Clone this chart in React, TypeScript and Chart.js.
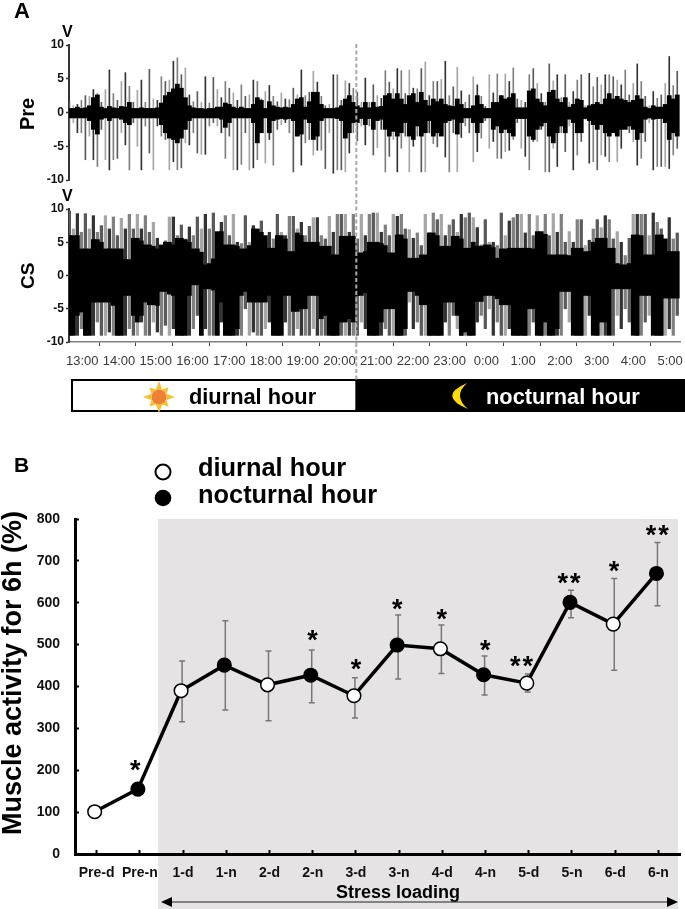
import React, { useEffect, useRef } from "react";
import { Chart, registerables } from "chart.js";

Chart.register(...registerables);

const FONT = "'Liberation Sans', Arial, sans-serif";

// ---------- Panel A: hour axis ----------
const timeLabels = ["13:00","14:00","15:00","16:00","17:00","18:00","19:00","20:00","21:00","22:00","23:00","0:00","1:00","2:00","3:00","4:00","5:00"];
const hourTicks = [14,15,16,17,18,19,20,21,22,23,24,25,26,27,28,29];
const HOUR_MIN = 13.18;
const HOUR_MAX = 29.81;
const BIN_HOURS = 4 / 36.75;
const BOUNDARY_HOUR = 21;

// ---------- Panel A: Pre trace (envelope per time bin, volts) ----------
const preSpikeHi = [
1.7,1.0,1.2,1.8,2.5,2.4,3.4,2.8,1.5,3.4,
6.3,2.8,1.8,4.6,5.9,3.9,1.5,3.3,4.8,1.5,
6.4,2.0,1.8,5.3,4.6,4.8,7.6,8.1,5.6,6.6,
2.6,1.6,3.1,1.5,5.3,1.4,5.2,3.4,2.2,4.6,
3.6,2.9,1.8,4.1,2.4,2.6,4.8,4.6,2.0,3.1,
4,2.4,1.6,2.9,2,1.9,3.6,2.6,6.3,2.5,
3,6.1,4.5,2.4,1,1.2,5.6,5.6,1.8,4.7,
4.3,3.6,3,1.5,5.1,1.5,4.1,2.5,2.1,6.2,
4.5,3.5,6.5,6.2,2.8,6.3,3.6,3.5,6.5,7.5,
2.5,4.6,4.6,4.9,7.6,2.5,3.8,6.7,3.2,1.5,
2.6,5.3,4.1,2.4,.9,5.6,2.9,5.7,2.5,5.7,
4.6,6.6,2,1.8,1.5,5.6,6.5,4.3,2.8,1.5,
7.2,4.7,5.6,2.2,5.6,1.5,3.1,4.8,5.6,1,
5.8,3.8,5.2,4.1,5.6,5.6,5.3,4.8,4.1,6.3,
2.6,4.3,7.2,4.6,2.4,1,3.1,2.1,2.6,4.3,
8.3,4,6.1];
const preSpikeLo = [
-4,-1.5,-3,-3,-7,-3.5,-7,-8,-2.5,-7,
-8.5,-7,-6.8,-3,-4.8,-8.5,-1.5,-5,-8.5,-2,
-6,-8.5,-2,-3.5,-4,-8.5,-7.3,-8.5,-8.2,-4.5,
-4.8,-3,-6,-6.2,-6.2,-2,-1.5,-2,-3,-6.8,
-3.5,-8.5,-8.5,-7.7,-3,-8.5,-8.2,-7,-3,-7.5,
-4,-7.8,-2.5,-1.8,-1.5,-3,-8.8,-3.5,-7.8,-4.5,
-4,-6.3,-5.6,-5.6,-8.3,-3,-9,-8.5,-8.5,-8.8,
-6,-3,-4.2,-2,-4.8,-2,-6.3,-5.2,-2.5,-8.8,
-6.5,-4,-8.8,-5.3,-3.5,-8.8,-5,-3.5,-8.8,-8.8,
-3,-4.6,-5.1,-3,-6.6,-8.8,-3,-8.8,-3.7,-2,
-3,-7.3,-5.8,-3.8,-1.2,-5.3,-4.3,-6.8,-6.8,-5.8,
-5.6,-4,-1.5,-5.3,-6.5,-8.5,-4.3,-4.3,-2.5,-8.8,
-8.8,-5.3,-8,-3,-5.8,-2,-8.5,-6.3,-4.3,-1,
-7.5,-7.3,-8.5,-6.3,-6.5,-7.3,-3,-7.3,-5.3,-2.3,
-3,-4.3,-7.8,-6.8,-4.3,-1.5,-8.5,-8,-8,-8,
-8.3,-6.3,-5.3];
const preCoreHi = [
.6,.6,.8,.6,.7,1.0,2.2,2.6,.8,.6,
.9,.7,.6,.9,.8,1.5,.6,.6,.7,.6,
.6,.6,.7,1.4,2.5,3.0,3.5,4.2,3.6,2.2,
1.0,.7,.6,.6,.5,.6,.6,.8,.8,1.4,
1.2,.8,.6,.8,.6,.6,1.2,2.2,1.8,.6,
1.6,1,.8,.7,.8,.7,1.2,2.0,2.2,.8,
1.6,3,3,1.2,.6,.6,.6,.7,1,2,
2.5,1.5,1,.7,1.5,.7,1.5,.8,.9,2.5,
2.8,2,2.8,2,1.2,2.5,2.8,1.5,3,1.8,
1,2,1.6,2,1.2,1,.9,2,1.2,.6,
.6,1,2.5,1.2,.6,.6,1.5,1.5,2.5,2,
2.2,2.8,.7,.7,.7,3.2,3.5,2,1.5,1,
3,3.3,2,1.5,2.2,.8,1.2,2,1.8,.7,
1,1.2,1.5,1.2,2,2.8,2,2.4,2,1.8,
1.5,1.8,2.5,2,.8,.6,1,.8,.8,1.2,
2.5,2,2.6];
const preCoreLo = [
-.8,-.8,-.8,-.8,-.8,-1.2,-2.5,-3.2,-1,-.8,
-1.2,-.8,-.8,-1,-1.5,-1.8,-.8,-.8,-.8,-.8,
-.8,-.8,-.8,-1.8,-3,-3.8,-4,-4.5,-3.8,-2.5,
-1.2,-.8,-.8,-.8,-.8,-.8,-.8,-.8,-1,-2.2,
-1.5,-.8,-.8,-.8,-.8,-.8,-1.5,-4.5,-3,-.8,
-3,-1.2,-1,-.9,-1,-.9,-1.2,-3.5,-3.2,-1,
-1.5,-4,-3.5,-1.2,-.8,-.8,-.8,-.9,-1.2,-3.8,
-3,-1.5,-1.5,-.9,-1.8,-.9,-2.5,-1.2,-1,-2.5,
-3.5,-2.8,-3.5,-3,-1.5,-3.5,-4,-2,-3.5,-3,
-1.2,-3.5,-3,-3.5,-1.5,-1.2,-1,-3.2,-1.5,-.8,
-.8,-1.5,-3,-1.5,-.8,-.8,-2.5,-2,-3,-2.5,
-3,-3.5,-.9,-.9,-.9,-3.5,-4,-2.5,-2,-1.5,
-3.5,-4.5,-3,-2,-3,-1,-1.5,-3,-3,-.9,
-1.2,-1.8,-2.5,-1.8,-3,-3.5,-3,-3.5,-2.5,-2.5,
-2,-2.5,-4,-3,-1,-.8,-1,-.9,-.9,-1.5,
-4,-3,-3.5];

// ---------- Panel A: CS trace ----------
const csSpikeHi = [
9.7,7,9.3,6.5,9.3,7,9,6.5,7.5,9,
7,8.8,6,8.6,7,9.2,7,9.2,7,9,
6.5,8,5.6,4.5,5.2,8.8,8.8,6,7.6,5.5,
7.3,6,8.8,7,9.2,7,9.4,6,8,9,
6,9.2,5,4.8,9,5,7.5,5.6,8.2,5.6,
6.5,5.5,9.2,6.5,6,8.9,8.9,7,8,6,
7.4,8.7,8.7,6,5.5,8.9,6.5,9.2,9.2,9.2,
6.5,9.2,5.5,9.2,6,9.2,9.4,9.4,6.5,7.6,
6,9.2,8.9,9.2,7,6.9,5.6,6.4,4.5,9.2,
6.4,9.4,8.4,9.2,6,7.6,8.4,6.5,9.2,8.7,
9.4,8.7,7.2,4.6,8.4,5,5,4.5,9.4,6,
8.2,8.7,9.2,9.2,6.4,9.2,6,9,6.5,9.2,
6,9.3,6.5,9.2,5,6.6,5,8.4,8.4,4.5,
5.3,7,8.4,7.2,9,8.4,5.5,6.6,5,3,
5.6,9.2,9.2,9.2,9.2,6,9.4,8,7,5.5,
8.7,5.5,6.4];
const csSpikeLo = [
-9,-9,-9,-8,-9,-9,-9,-7,-9,-9,
-8.5,-9,-9,-9,-9,-8,-9,-9,-7,-9,
-9,-7,-8.5,-9,-7.5,-9,-8,-9,-9,-9,
-9,-8,-6,-9,-8,-9,-9,-9,-7,-9,
-9,-9,-9,-9,-5,-9,-8.5,-9,-9,-8,
-7,-9,-9,-9,-7,-9,-9,-8,-9,-9,
-9,-8,-9,-9,-9,-9,-9,-9,-9,-9,
-9,-9,-9,-7,-8,-9,-9,-9,-9,-8,
-9,-9,-9,-9,-9,-4,-8,-7,-9,-9,
-9,-9,-9,-9,-7,-9,-6,-8,-9,-9,
-9,-9,-7,-6,-8,-5,-9,-7,-9,-9,
-8,-9,-9,-9,-9,-9,-7,-9,-9,-9,
-9,-9,-9,-9,-5,-7,-6,-9,-9,-9,
-6,-5,-9,-9,-9,-8,-9,-6,-8,-5,
-7,-5,-9,-9,-7,-6,-5,-9,-9,-9,
-8,-9,-6];
const csCoreHi = [
6,6,6,4,4,4,5.4,5.4,5,4,
4,4,4,4,2.4,2.4,5.6,5.6,5.2,4.6,
4.6,4.4,4,4.6,5,5,4.6,5.6,5.6,5.4,
5,4,4,3.5,1.6,1.8,2.5,6.6,6.6,4.6,
4.6,4.6,4.4,4,4,4.5,7,7,6.5,6,
4.1,4.1,6,6,5.5,3.6,3.6,6.4,6,5,
5,5,5,4.4,4.4,4.4,3.1,3.1,5.9,5.9,
5.9,5.9,3.4,3.4,3.6,5,5,5,4.8,4.5,
3.4,3.4,6.1,6.1,5.5,2.6,2.6,2.6,3.1,3.1,
6.4,6.4,6,4.4,4.4,4.4,5.9,5.9,5.5,4.1,
4.1,5,4.4,4.4,4.6,4.6,4.2,2.6,4,4,
4.1,4.1,4.1,4.1,4.1,4.1,4,6.6,6.6,6.2,
3.1,3.1,3.1,3.1,3.1,3,4.1,4.1,4.1,3.6,
3.6,5,5.6,5.6,5.6,4.1,4.1,1.8,1.6,1.6,
1.8,6.1,6.1,6,3.1,3.1,3.1,6.1,6.1,5.5,
3.6,3.6,3.6];
const csCoreLo = [
-9,-9,-6,-5.5,-9,-9,-4,-4,-4,-4,
-4,-4.5,-9,-9,-3,-3,-6,-7,-6,-4,
-4.4,-4.4,-4.5,-2.4,-2.4,-2.8,-3,-9,-9,-9,
-3,-1.4,-1.4,-9,-2,-2,-2.2,-9,-4,-9,
-9,-9,-8,-3,-2.4,-4,-4,-4,-4,-4,
-3,-9,-9,-9,-3,-3,-5.4,-5.4,-5,-5,
-3,-3,-3,-6.5,-6,-9,-9,-9,-7,-7,
-6.5,-7,-3,-3,-2.6,-9,-9,-9,-7,-5,
-5,-5,-9,-9,-8,-2.4,-2.4,-3,-4.4,-4.4,
-9,-9,-9,-9,-4,-4,-4,-6,-9,-8.5,
-9,-9,-3.9,-3.9,-3,-3,-3,-3.5,-4.4,-4.4,
-4.4,-9,-9,-9,-9,-5,-5,-9,-9,-7,
-9,-9,-8,-2.4,-2.4,-2.4,-9,-9,-9,-3,
-3,-9,-9,-7,-7,-9,-2,-2,-2,-2,
-2,-9,-9,-3,-3,-3,-9,-9,-9,-3.4,
-3.4,-3.4,-3.4];

// ---------- Panel B ----------
const categories = ["Pre-d","Pre-n","1-d","1-n","2-d","2-n","3-d","3-n","4-d","4-n","5-d","5-n","6-d","6-n"];
const activity = [101,155,390,451,404,427,378,499,490,428,408,601,549,670];
const errorHigh = [null,null,461,557,485,487,421,571,547,473,430,630,658,744];
const errorLow = [null,null,316,344,318,361,325,418,431,380,387,564,439,593];
const starLabels = ["*","*","*","*","*","*","**","**","*","**"];
const starX = [0.94,5.04,6.05,7.0,8.03,9.04,9.9,11.0,12.02,13.04];
const starY = [205,516,447,590,566,492,454,652,681,767];
const yTicksB = [0,100,200,300,400,500,600,700,800];

function text(ctx: any, s: string, x: number, y: number, font: string, color = "#000", align = "left", rot = 0) {
  ctx.save();
  ctx.translate(x, y);
  if (rot) ctx.rotate(rot);
  ctx.font = font;
  ctx.fillStyle = color;
  ctx.textAlign = align;
  ctx.textBaseline = "alphabetic";
  ctx.fillText(s, 0, 0);
  ctx.restore();
}

const binHour = (i: number) => HOUR_MIN + 0.1 * BIN_HOURS + i * BIN_HOURS;
const spikeGreys = ["#5a5a5a", "#a6a6a6", "#333333", "#808080"];

function traceDatasets(spikeLo: number[], spikeHi: number[], coreLo: number[], coreHi: number[], spikeW: number, coreW: number) {
  const bars = (lo: number[], hi: number[]) => lo.map((l, i) => ({ x: binHour(i), y: [l, hi[i]] }));
  return [
    { data: bars(coreLo, coreHi), backgroundColor: "#000", barThickness: coreW, order: 0, grouped: false },
    {
      data: bars(spikeLo, spikeHi),
      backgroundColor: spikeLo.map((_, i) => spikeGreys[i % spikeGreys.length]),
      barThickness: spikeW, order: 1, grouped: false,
    },
  ];
}

function traceY(width: number) {
  return {
    type: "linear", min: -10, max: 10,
    afterFit: (s: any) => { s.width = width; },
    afterBuildTicks: (s: any) => { s.ticks = [-10, -5, 0, 5, 10].map((value) => ({ value })); },
    ticks: { font: { family: FONT, size: 12, weight: "bold" }, color: "#111", padding: 2, callback: (v: number) => String(v) },
    grid: { drawOnChartArea: false, tickLength: 3, tickColor: "#333", tickWidth: 1.5 },
    border: { color: "#333", width: 2 },
  };
}

const noLegend = { legend: { display: false }, tooltip: { enabled: false } };

export default function App() {
  const preRef = useRef<HTMLCanvasElement>(null);
  const csRef = useRef<HTMLCanvasElement>(null);
  const muscleRef = useRef<HTMLCanvasElement>(null);

  useEffect(() => {
    const preDecor = {
      id: "preDecor",
      afterDraw(c: any) {
        const ctx = c.ctx;
        text(ctx, "A", 14, 18, `bold 22px ${FONT}`);
        text(ctx, "V", 62, 37, `bold 16px ${FONT}`);
        text(ctx, "Pre", 34, 130, `bold 20px ${FONT}`, "#000", "left", -Math.PI / 2);
      },
    };

    const pre = new Chart(preRef.current as any, {
      type: "bar",
      data: { datasets: traceDatasets(preSpikeLo, preSpikeHi, preCoreLo, preCoreHi, 1, 4.1) as any },
      options: {
        responsive: false, animation: false, devicePixelRatio: 1,
        layout: { autoPadding: false, padding: { left: 0, top: 45, right: 5, bottom: 729 } },
        plugins: noLegend,
        scales: {
          x: { type: "linear", min: HOUR_MIN, max: HOUR_MAX, offset: false, display: false, grid: { offset: false } },
          y: traceY(69),
        },
      } as any,
      plugins: [preDecor],
    });

    const csDecor = {
      id: "csDecor",
      afterDraw(c: any) {
        const ctx = c.ctx;
        const xs = c.scales.x;
        const bx = xs.getPixelForValue(BOUNDARY_HOUR);
        text(ctx, "V", 62, 201, `bold 16px ${FONT}`);
        text(ctx, "CS", 34, 289, `bold 19px ${FONT}`, "#000", "left", -Math.PI / 2);
        // day / night band
        ctx.save();
        ctx.fillStyle = "#000";
        ctx.fillRect(bx, 379, 685 - bx, 33);
        ctx.fillStyle = "#fff";
        ctx.strokeStyle = "#000";
        ctx.lineWidth = 2;
        ctx.fillRect(72, 380, bx - 72, 31);
        ctx.strokeRect(72, 380, bx - 72, 31);
        // sun
        const sx = 159, sy = 397;
        ctx.fillStyle = "#F5C32C";
        for (let k = 0; k < 8; k++) {
          const a = (k * Math.PI) / 4;
          const long = k % 2 === 0 ? 16 : 13.5;
          ctx.beginPath();
          ctx.moveTo(sx + Math.cos(a) * long, sy + Math.sin(a) * long);
          ctx.lineTo(sx + Math.cos(a + 0.42) * 8, sy + Math.sin(a + 0.42) * 8);
          ctx.lineTo(sx + Math.cos(a - 0.42) * 8, sy + Math.sin(a - 0.42) * 8);
          ctx.closePath();
          ctx.fill();
        }
        ctx.fillStyle = "#F08035";
        ctx.beginPath();
        ctx.arc(sx, sy, 7.5, 0, Math.PI * 2);
        ctx.fill();
        // moon
        ctx.fillStyle = "#FFDD00";
        ctx.beginPath();
        ctx.moveTo(467, 383);
        ctx.quadraticCurveTo(437, 396, 468, 409);
        ctx.quadraticCurveTo(452.5, 396, 467, 383);
        ctx.fill();
        // boundary line across both traces
        ctx.strokeStyle = "#AAAAAA";
        ctx.lineWidth = 2;
        ctx.setLineDash([4, 2.5]);
        ctx.beginPath();
        ctx.moveTo(bx, 44);
        ctx.lineTo(bx, 380);
        ctx.stroke();
        ctx.restore();
        text(ctx, "diurnal hour", 189, 404, `bold 21.8px ${FONT}`);
        text(ctx, "nocturnal hour", 486, 404, `bold 21.8px ${FONT}`, "#fff");
      },
    };

    const cs = new Chart(csRef.current as any, {
      type: "bar",
      data: { datasets: traceDatasets(csSpikeLo, csSpikeHi, csCoreLo, csCoreHi, 2.6, 4.1) as any },
      options: {
        responsive: false, animation: false, devicePixelRatio: 1,
        layout: { autoPadding: false, padding: { left: 0, top: 209, right: 5, bottom: 540 } },
        plugins: noLegend,
        scales: {
          x: {
            type: "linear", min: HOUR_MIN, max: HOUR_MAX, offset: false, weight: 0,
            afterFit: (s: any) => { s.height = 5; },
            afterBuildTicks: (s: any) => { s.ticks = hourTicks.map((value) => ({ value })); },
            ticks: { display: false },
            grid: { offset: false, drawOnChartArea: false, tickLength: 4, tickColor: "#444", tickWidth: 1 },
            border: { color: "#808080", width: 1.5 },
          },
          xl: {
            type: "linear", position: "bottom", axis: "x", min: HOUR_MIN, max: HOUR_MAX, offset: false, weight: 1,
            afterFit: (s: any) => { s.height = 22; s.paddingLeft = 0; s.paddingRight = 0; },
            afterBuildTicks: (s: any) => { s.ticks = timeLabels.map((_, i) => ({ value: 13.54 + i })); },
            afterTickToLabelConversion: (s: any) => { s.ticks.forEach((t: any, i: number) => { t.label = timeLabels[i]; }); },
            ticks: { font: { family: FONT, size: 13 }, color: "#3a3a3a", padding: 7, autoSkip: false, maxRotation: 0, minRotation: 0 },
            grid: { display: false, drawTicks: false },
            border: { display: false },
          },
          y: traceY(69),
        },
      } as any,
      plugins: [csDecor],
    });

    const shade = {
      id: "shade",
      beforeDraw(c: any) {
        const ctx = c.ctx;
        const left = c.scales.xv.getPixelForValue(1.47);
        ctx.save();
        ctx.fillStyle = "#E5E3E3";
        const top = c.scales.y.getPixelForValue(800);
        ctx.fillRect(left, top, 678 - left, 909 - top);
        ctx.restore();
      },
      beforeDatasetsDraw(c: any) {
        const ctx = c.ctx;
        const { xv, y } = c.scales;
        ctx.save();
        ctx.strokeStyle = "#777";
        ctx.lineWidth = 1.5;
        errorHigh.forEach((hi, i) => {
          const lo = errorLow[i];
          if (hi == null || lo == null) return;
          const x = xv.getPixelForValue(i) + 1;
          const yh = y.getPixelForValue(hi);
          const yl = y.getPixelForValue(lo);
          ctx.beginPath();
          ctx.moveTo(x, yh); ctx.lineTo(x, yl);
          ctx.moveTo(x - 3, yh); ctx.lineTo(x + 3, yh);
          ctx.moveTo(x - 3, yl); ctx.lineTo(x + 3, yl);
          ctx.stroke();
        });
        ctx.restore();
      },
      afterDraw(c: any) {
        const ctx = c.ctx;
        const { xv, y } = c.scales;
        text(ctx, "B", 14, 472, `bold 21px ${FONT}`);
        text(ctx, "Muscle activity for 6h (%)", 21, 835, `bold 27px ${FONT}`, "#000", "left", -Math.PI / 2);
        // legend
        ctx.save();
        ctx.lineWidth = 2;
        ctx.strokeStyle = "#000";
        ctx.fillStyle = "#fff";
        ctx.beginPath(); ctx.arc(163, 472, 7.5, 0, Math.PI * 2); ctx.fill(); ctx.stroke();
        ctx.fillStyle = "#000";
        ctx.beginPath(); ctx.arc(163, 498, 8.3, 0, Math.PI * 2); ctx.fill();
        ctx.restore();
        text(ctx, "diurnal hour", 198, 476, `bold 25.4px ${FONT}`);
        text(ctx, "nocturnal hour", 198, 503, `bold 25.4px ${FONT}`);
        // significance marks
        starLabels.forEach((s, i) => {
          const size = 27;
          ctx.save();
          ctx.font = `bold ${size}px ${FONT}`;
          ctx.fillStyle = "#000";
          ctx.textAlign = "center";
          ctx.textBaseline = "alphabetic";
          (ctx as any).letterSpacing = s.length > 1 ? "2px" : "0px";
          ctx.fillText(s, xv.getPixelForValue(starX[i]), y.getPixelForValue(starY[i]) + size * 0.42);
          ctx.restore();
        });
        // stress-loading arrow
        text(ctx, "Stress loading", 398, 898, `bold 18px ${FONT}`, "#000", "center");
        ctx.save();
        ctx.strokeStyle = "#222";
        ctx.fillStyle = "#000";
        ctx.lineWidth = 1.2;
        ctx.beginPath(); ctx.moveTo(166, 902); ctx.lineTo(672, 902); ctx.stroke();
        ctx.beginPath(); ctx.moveTo(161, 902); ctx.lineTo(172, 897); ctx.lineTo(172, 907); ctx.fill();
        ctx.beginPath(); ctx.moveTo(678, 902); ctx.lineTo(667, 897); ctx.lineTo(667, 907); ctx.fill();
        ctx.restore();
      },
    };

    const muscle = new Chart(muscleRef.current as any, {
      type: "line",
      data: {
        labels: categories,
        datasets: [{
          xAxisID: "xv", yAxisID: "y",
          data: activity.map((v, i) => ({ x: i, y: v })),
          borderColor: "#000", borderWidth: 3.5, tension: 0,
          pointRadius: 6.8, pointHoverRadius: 6.8, pointBorderWidth: 1.5, pointBorderColor: "#000",
          pointBackgroundColor: categories.map((c) => (c.endsWith("-d") ? "#fff" : "#000")),
        }],
      },
      options: {
        responsive: false, animation: false, devicePixelRatio: 1,
        layout: { autoPadding: false, padding: { left: 0, top: 519, right: 5, bottom: 25 } },
        plugins: noLegend,
        scales: {
          x: {
            type: "category", offset: true,
            afterFit: (s: any) => { s.height = 30; },
            ticks: { font: { family: FONT, size: 14, weight: "bold" }, color: "#111", padding: 15, autoSkip: false, maxRotation: 0, minRotation: 0 },
            grid: { offset: false, drawOnChartArea: false, tickLength: -4, tickColor: "#000", tickWidth: 2 },
            border: { color: "#000", width: 3 },
          },
          xv: { type: "linear", position: "bottom", min: -0.455, max: 13.545, display: false },
          y: {
            type: "linear", min: 0, max: 800,
            afterFit: (s: any) => { s.width = 75; },
            afterBuildTicks: (s: any) => { s.ticks = yTicksB.map((value) => ({ value })); },
            ticks: { font: { family: FONT, size: 14, weight: "bold" }, color: "#111", padding: 19 },
            grid: { drawOnChartArea: false, tickLength: -4, tickColor: "#000", tickWidth: 2 },
            border: { color: "#000", width: 3 },
          },
        },
      } as any,
      plugins: [shade],
    });

    return () => { pre.destroy(); cs.destroy(); muscle.destroy(); };
  }, []);

  const layer: React.CSSProperties = { position: "absolute", left: 0, top: 0 };
  return (
    <div style={{ position: "absolute", left: 0, top: 0, width: 685, height: 909, background: "#fff", overflow: "hidden" }}>
      <canvas ref={muscleRef} width={685} height={909} style={layer} />
      <canvas ref={preRef} width={685} height={909} style={layer} />
      <canvas ref={csRef} width={685} height={909} style={layer} />
    </div>
  );
}
